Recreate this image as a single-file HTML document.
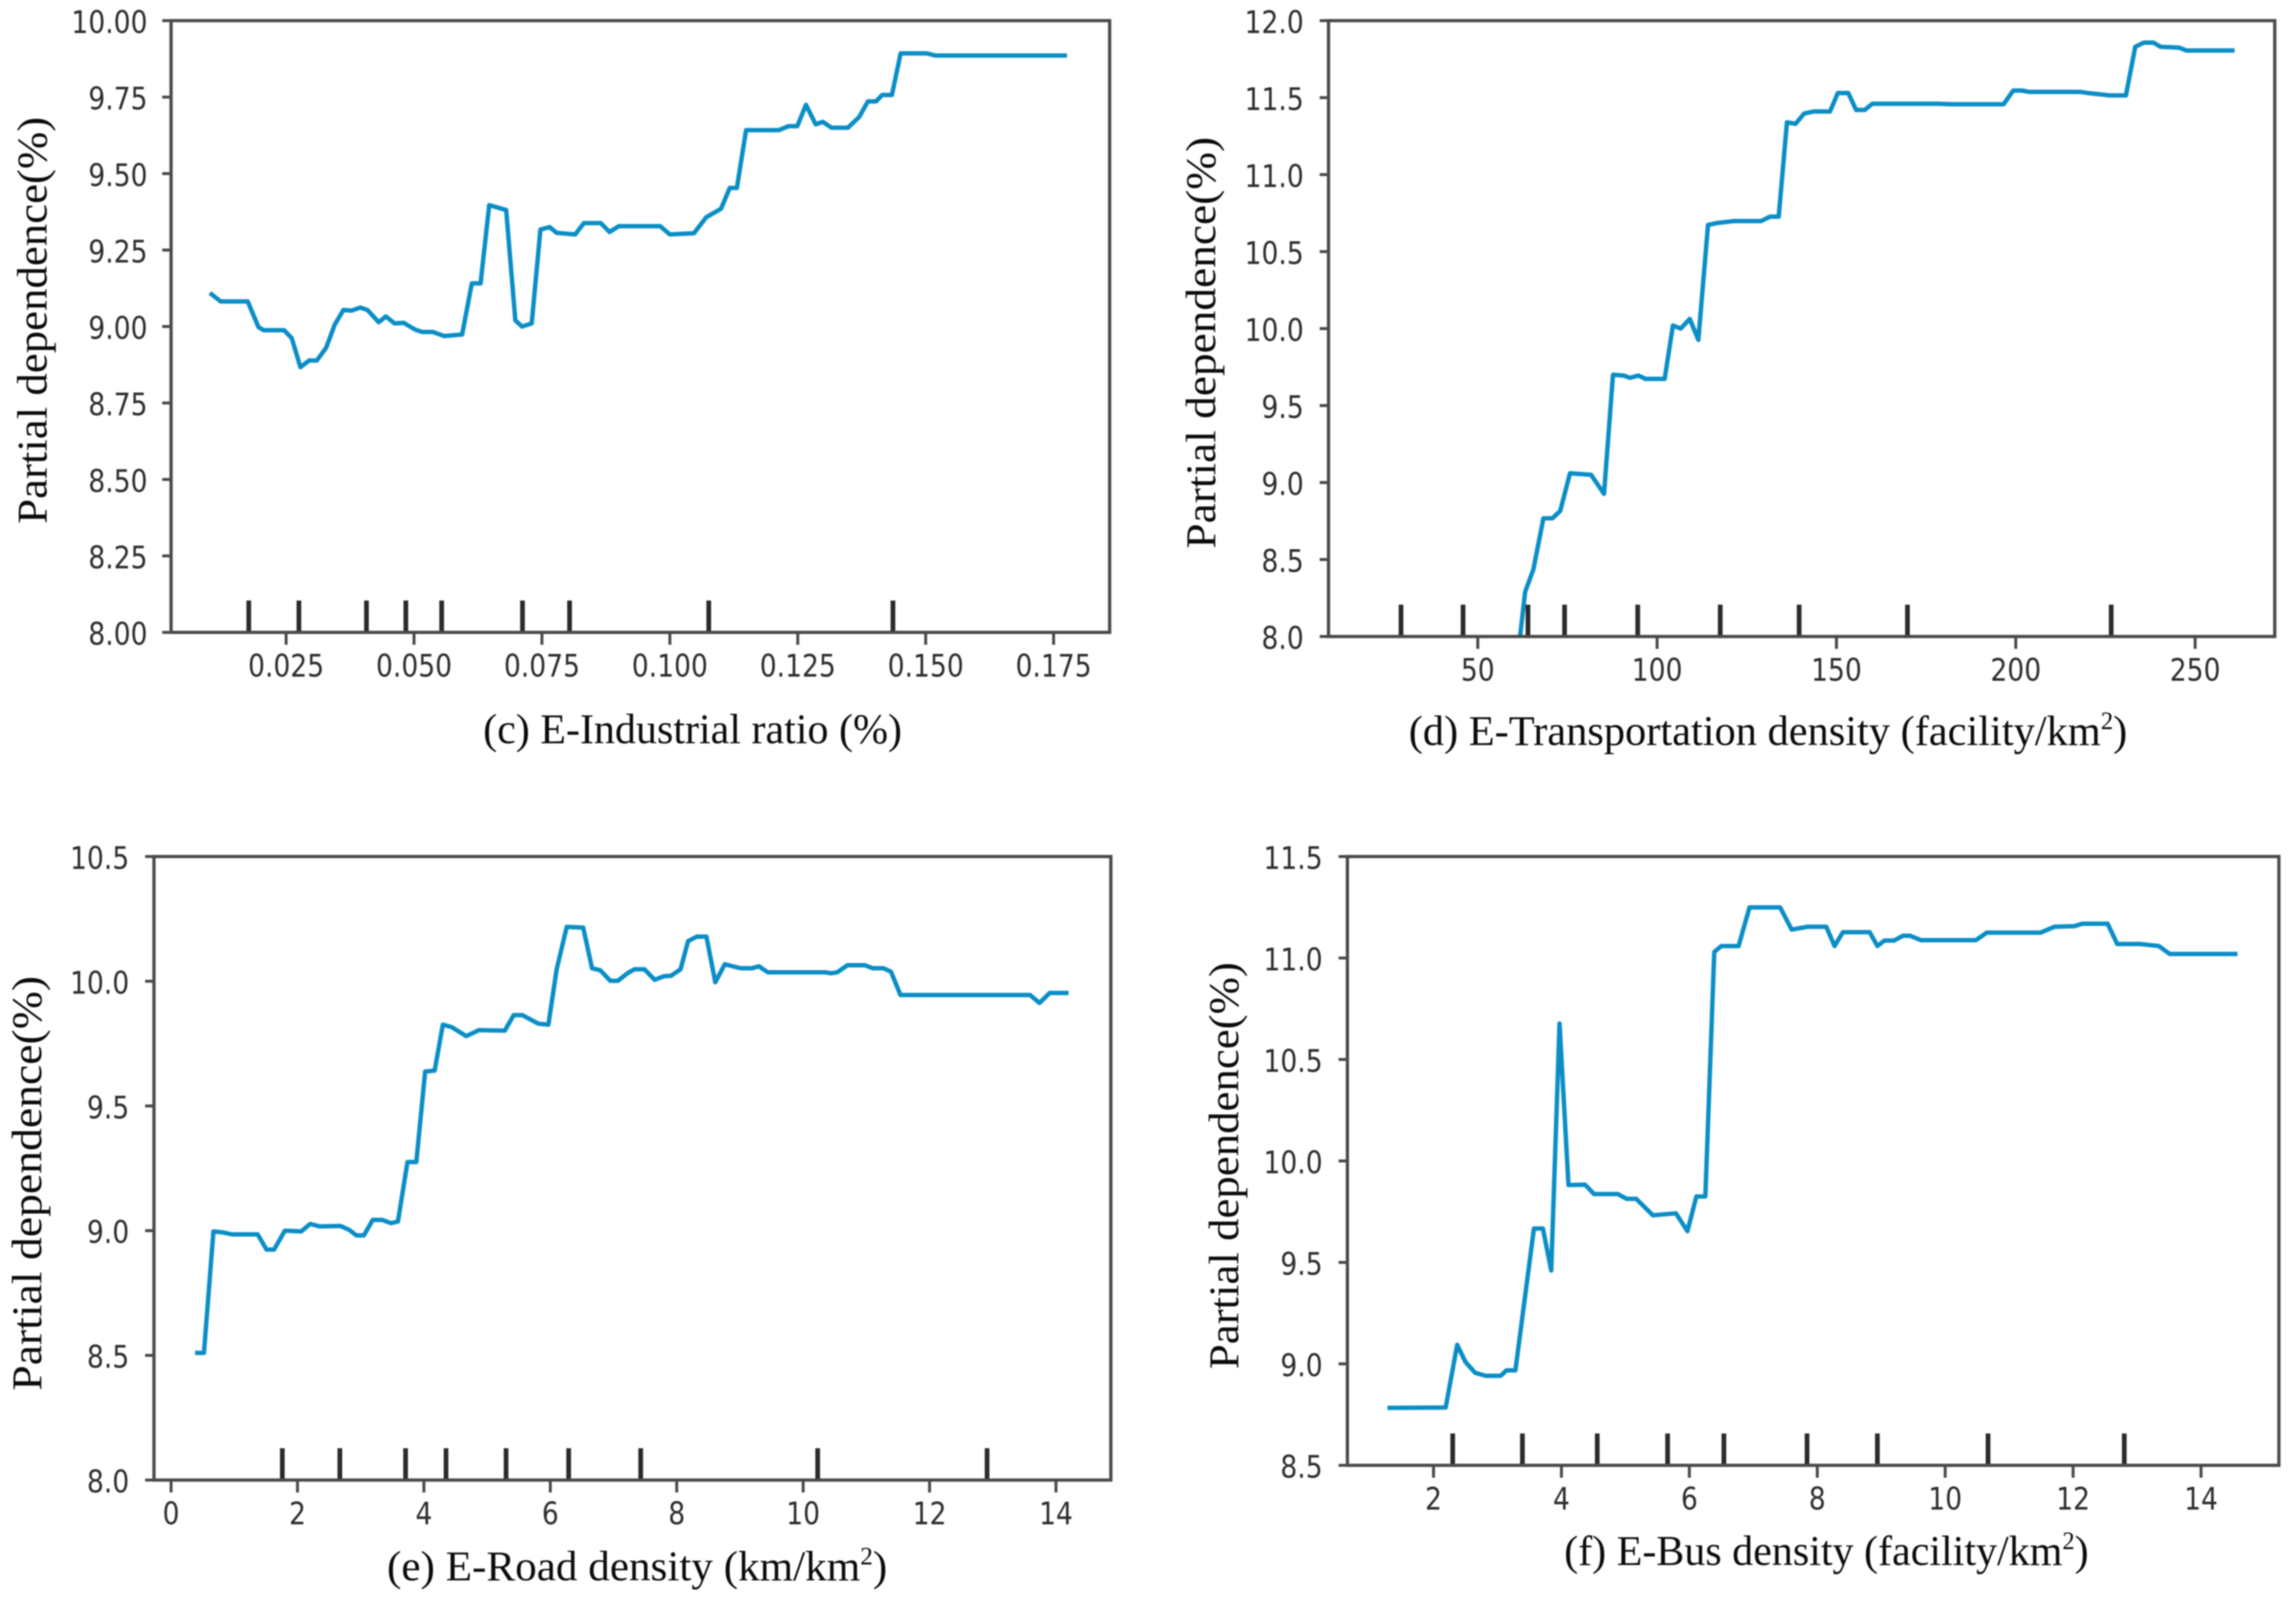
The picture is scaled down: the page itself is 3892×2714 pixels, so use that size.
<!DOCTYPE html>
<html lang="en">
<head>
<meta charset="utf-8">
<title>Partial dependence plots</title>
<style>
html,body{margin:0;padding:0;background:#fff;}
#figure{display:block;width:3892px;height:2714px;background:#fff;filter:blur(1px);}
.tick-label{font-family:"DejaVu Sans","Liberation Sans",sans-serif;font-size:53px;fill:#2e2e2e;}
.serif{font-family:"Liberation Serif",serif;fill:#0c0c0c;}
</style>
</head>
<body>
<svg id="figure" xmlns="http://www.w3.org/2000/svg" width="3892" height="2714" viewBox="0 0 3892 2714"></svg>
<script>
// ---------- Panel (c) data ----------
const industrialX = [.0101,.0122,.0175,.0196,.0206,.0246,.0261,.0278,.0295,.031,.0328,.0345,.0362,.0378,.0395,.0409,.0431,.0445,.0462,.048,.0502,.0516,.0537,.0559,.0594,.0613,.063,.0647,.068,.0698,.0711,.073,.0747,.0765,.0779,.0815,.0832,.0865,.0882,.09,.0981,.1,.1047,.1071,.11,.1117,.1131,.1149,.1213,.1232,.1249,.1266,.1285,.1299,.1316,.1348,.137,.1387,.1403,.1415,.1434,.1451,.1502,.1519,.1776];
const industrialY = [9.11,9.082,9.082,8.998,8.988,8.988,8.962,8.867,8.889,8.889,8.93,9.006,9.054,9.052,9.062,9.054,9.014,9.033,9.01,9.012,8.99,8.982,8.982,8.969,8.974,9.141,9.141,9.397,9.381,9.02,9.0,9.01,9.317,9.325,9.306,9.301,9.338,9.338,9.309,9.328,9.328,9.301,9.305,9.357,9.385,9.453,9.453,9.642,9.642,9.655,9.655,9.725,9.661,9.669,9.65,9.65,9.685,9.736,9.736,9.757,9.757,9.893,9.893,9.886,9.886];
const industrialRug = [.0177,.0275,.0407,.0484,.0554,.0712,.0804,.1076,.1436];
const industrialXTicks = [.025,.05,.075,.1,.125,.15,.175];
const industrialXLabels = ["0.025","0.050","0.075","0.100","0.125","0.150","0.175"];
const industrialYTicks = [8,8.25,8.5,8.75,9,9.25,9.5,9.75,10];
const industrialYLabels = ["8.00","8.25","8.50","8.75","9.00","9.25","9.50","9.75","10.00"];

// ---------- Panel (d) data ----------
const transportX = [61.8,63.2,65.5,68.3,70.8,73,75.7,81.6,85.2,87.7,90.7,92.4,94.8,96.8,102.1,104.4,106.6,109.1,111.5,114.2,116.8,121.3,129,131.5,133.9,136.2,138.6,141,143.7,148.2,150.4,153.3,155.5,157.9,160,178.3,182.4,196.6,199.3,201.7,203.8,218,220.1,224.1,226.2,230.7,233.3,235.7,238.4,240.4,245.5,247.6,261];
const transportY = [8.0,8.29,8.435,8.768,8.768,8.816,9.06,9.05,8.927,9.7,9.695,9.68,9.695,9.673,9.673,10.02,10.0,10.063,9.927,10.673,10.686,10.698,10.698,10.727,10.727,11.34,11.33,11.397,11.41,11.41,11.53,11.53,11.42,11.42,11.46,11.46,11.457,11.457,11.546,11.546,11.537,11.537,11.53,11.52,11.514,11.514,11.83,11.857,11.857,11.83,11.825,11.806,11.806];
const transportRug = [28.6,45.9,64,74.2,94.6,117.6,139.6,169.8,226.6];
const transportXTicks = [50,100,150,200,250];
const transportXLabels = ["50","100","150","200","250"];
const transportYTicks = [8,8.5,9,9.5,10,10.5,11,11.5,12];
const transportYLabels = ["8.0","8.5","9.0","9.5","10.0","10.5","11.0","11.5","12.0"];

// ---------- Panel (e) data ----------
const roadX = [.38,.52,.67,.82,.96,1.37,1.51,1.63,1.8,2.06,2.2,2.35,2.68,2.82,2.93,3.05,3.19,3.34,3.48,3.59,3.74,3.88,4.02,4.17,4.3,4.44,4.67,4.87,5.28,5.42,5.56,5.81,5.97,6.1,6.26,6.52,6.66,6.79,6.95,7.07,7.22,7.33,7.49,7.65,7.8,7.91,8.06,8.18,8.32,8.47,8.61,8.76,9.01,9.19,9.3,9.44,10.35,10.44,10.54,10.7,10.98,11.1,11.27,11.39,11.54,13.59,13.74,13.9,14.2];
const roadY = [8.51,8.51,8.997,8.993,8.985,8.985,8.924,8.924,9.0,8.997,9.027,9.017,9.019,9.003,8.981,8.981,9.043,9.043,9.03,9.037,9.275,9.275,9.638,9.642,9.826,9.816,9.78,9.804,9.802,9.864,9.864,9.83,9.826,10.048,10.218,10.215,10.052,10.044,10.002,10.002,10.032,10.048,10.048,10.006,10.02,10.022,10.048,10.161,10.179,10.179,9.996,10.068,10.052,10.052,10.06,10.036,10.036,10.032,10.036,10.064,10.064,10.052,10.052,10.038,9.945,9.945,9.913,9.953,9.953];
const roadRug = [1.76,2.67,3.71,4.35,5.3,6.29,7.43,10.23,12.91];
const roadXTicks = [0,2,4,6,8,10,12,14];
const roadXLabels = ["0","2","4","6","8","10","12","14"];
const roadYTicks = [8,8.5,9,9.5,10,10.5];
const roadYLabels = ["8.0","8.5","9.0","9.5","10.0","10.5"];

// ---------- Panel (f) data ----------
const busX = [1.28,2.19,2.37,2.5,2.65,2.82,3.05,3.14,3.28,3.57,3.71,3.84,3.97,4.11,4.37,4.51,4.88,5.02,5.17,5.43,5.79,5.97,6.11,6.25,6.39,6.5,6.77,6.94,7.42,7.6,7.85,8.14,8.27,8.4,8.82,8.94,9.05,9.2,9.34,9.45,9.62,10.48,10.65,11.49,11.71,12.02,12.14,12.54,12.69,13.05,13.34,13.51,14.57];
const busY = [8.783,8.785,9.094,9.009,8.956,8.941,8.941,8.968,8.968,9.667,9.667,9.46,10.677,9.881,9.883,9.837,9.837,9.813,9.813,9.732,9.742,9.654,9.825,9.825,11.03,11.059,11.059,11.249,11.249,11.14,11.154,11.154,11.059,11.127,11.127,11.059,11.086,11.086,11.11,11.11,11.088,11.088,11.125,11.125,11.154,11.157,11.169,11.169,11.069,11.069,11.059,11.02,11.02];
const busRug = [2.3,3.39,4.56,5.66,6.54,7.84,8.94,10.67,12.8];
const busXTicks = [2,4,6,8,10,12,14];
const busXLabels = ["2","4","6","8","10","12","14"];
const busYTicks = [8.5,9,9.5,10,10.5,11,11.5];
const busYLabels = ["8.5","9.0","9.5","10.0","10.5","11.0","11.5"];

const NS = "http://www.w3.org/2000/svg";
const root = document.getElementById("figure");

function el(parent, tag, attrs, text) {
  const n = document.createElementNS(NS, tag);
  for (const k in attrs) n.setAttribute(k, attrs[k]);
  if (text !== undefined) n.textContent = text;
  parent.appendChild(n);
  return n;
}

function linear(d0, d1, p0, p1) {
  return v => p0 + (v - d0) * (p1 - p0) / (d1 - d0);
}

function drawPanel(cfg) {
  const g = el(root, "g", {});
  
  
  const f = cfg.frame;
  const sx = linear(cfg.xDomain[0], cfg.xDomain[1], cfg.xPixels[0], cfg.xPixels[1]);
  const sy = linear(cfg.yDomain[0], cfg.yDomain[1], f.bottom, f.top);

  // curve
  let d = "";
  cfg.xs.forEach((x, i) => { d += (i ? "L" : "M") + sx(x).toFixed(1) + " " + sy(cfg.ys[i]).toFixed(1); });
  const curve = el(g, "path", {d: d, fill: "none", stroke: "#0b8ec6", "stroke-width": 7.5, "stroke-linejoin": "round"});
  
  

  // rug
  cfg.rug.forEach(v => {
    const r = el(g, "line", {x1: sx(v), x2: sx(v), y1: f.bottom, y2: f.bottom - 54, stroke: "#2b2b2b", "stroke-width": 8});
    
    
  });

  // frame
  const box = el(g, "rect", {x: f.left, y: f.top, width: f.right - f.left, height: f.bottom - f.top, fill: "none", stroke: "#4a4a4a", "stroke-width": 5.5});
  
  

  // x ticks
  cfg.xTicks.forEach((v, i) => {
    const t = el(g, "line", {x1: sx(v), x2: sx(v), y1: f.bottom, y2: f.bottom + 21, stroke: "#4a4a4a", "stroke-width": 5});
    
    
    const l = el(g, "text", {class: "tick-label", "text-anchor": "middle", transform: "translate(" + sx(v) + "," + (f.bottom + 75) + ") scale(0.85,1)"}, cfg.xLabels[i]);
    
    
  });

  // y ticks
  cfg.yTicks.forEach((v, i) => {
    const t = el(g, "line", {x1: f.left - 15, x2: f.left, y1: sy(v), y2: sy(v), stroke: "#4a4a4a", "stroke-width": 5});
    
    
    const l = el(g, "text", {class: "tick-label", "text-anchor": "end", transform: "translate(" + (f.left - cfg.labelGap) + "," + (sy(v) + 21) + ") scale(0.85,1)"}, cfg.yLabels[i]);
    
    
  });

  // y title
  const yt = el(g, "text", {class: "serif", "font-size": 72, "text-anchor": "middle", textLength: cfg.yTitle.len, lengthAdjust: "spacingAndGlyphs", transform: "translate(" + cfg.yTitle.x + "," + cfg.yTitle.y + ") rotate(-90)"}, "Partial dependence(%)");
  
  

  // caption
  const c = el(g, "text", {class: "serif", "font-size": 72, "text-anchor": "middle", x: cfg.caption.x, y: cfg.caption.y, textLength: cfg.caption.len, lengthAdjust: "spacingAndGlyphs"}, cfg.caption.text);
  
  
  if (cfg.caption.sup) {
    const s = el(c, "tspan", {"font-size": 42, dy: -27}, "2");
    
    
    const e = el(c, "tspan", {dy: 27}, cfg.caption.after);
    
    
  }
}

drawPanel({
  id: "industrial-ratio", frame: {left: 290, right: 1881, top: 35, bottom: 1072}, labelGap: 40,
  xDomain: [.025, .175], xPixels: [485, 1786], yDomain: [8, 10],
  xs: industrialX, ys: industrialY, rug: industrialRug,
  xTicks: industrialXTicks, xLabels: industrialXLabels, yTicks: industrialYTicks, yLabels: industrialYLabels,
  yTitle: {x: 79, y: 543, len: 690},
  caption: {text: "(c) E-Industrial ratio (%)", x: 1174, y: 1260, len: 710}
});
drawPanel({
  id: "transportation-density", frame: {left: 2252, right: 3856, top: 35, bottom: 1079}, labelGap: 42,
  xDomain: [50, 250], xPixels: [2505, 3721], yDomain: [8, 12],
  xs: transportX, ys: transportY, rug: transportRug,
  xTicks: transportXTicks, xLabels: transportXLabels, yTicks: transportYTicks, yLabels: transportYLabels,
  yTitle: {x: 2060, y: 581, len: 698},
  caption: {text: "(d) E-Transportation density (facility/km", sup: true, after: ")", x: 2997, y: 1263, len: 1218}
});
drawPanel({
  id: "road-density", frame: {left: 261, right: 1883, top: 1452, bottom: 2509}, labelGap: 42,
  xDomain: [0, 14], xPixels: [290, 1790], yDomain: [8, 10.5],
  xs: roadX, ys: roadY, rug: roadRug,
  xTicks: roadXTicks, xLabels: roadXLabels, yTicks: roadYTicks, yLabels: roadYLabels,
  yTitle: {x: 70, y: 2006, len: 703},
  caption: {text: "(e) E-Road density (km/km", sup: true, after: ")", x: 1080, y: 2679, len: 848}
});
drawPanel({
  id: "bus-density", frame: {left: 2284, right: 3863, top: 1452, bottom: 2484}, labelGap: 42,
  xDomain: [2, 14], xPixels: [2430, 3731], yDomain: [8.5, 11.5],
  xs: busX, ys: busY, rug: busRug,
  xTicks: busXTicks, xLabels: busXLabels, yTicks: busYTicks, yLabels: busYLabels,
  yTitle: {x: 2099, y: 1976, len: 690},
  caption: {text: "(f) E-Bus density (facility/km", sup: true, after: ")", x: 3096, y: 2653, len: 889}
});
</script>
</body>
</html>
